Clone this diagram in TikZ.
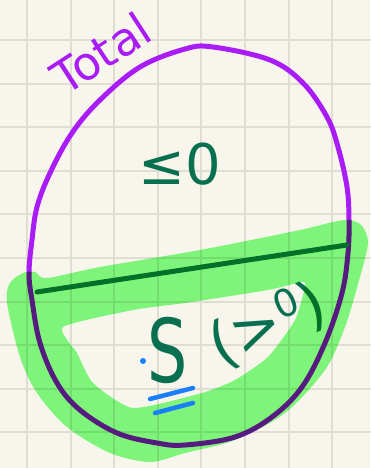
\documentclass[tikz,border=0pt]{standalone}
\usepackage{fontspec}
\setmainfont{DejaVu Sans}
\definecolor{paper}{HTML}{F8F6EC}
\definecolor{gridc}{HTML}{E0DED2}
\definecolor{violet1}{HTML}{A91CF6}
\definecolor{ink}{HTML}{087050}
\definecolor{hl}{HTML}{82FE84}
\definecolor{pen}{HTML}{1A7FFF}
\begin{document}
\begin{tikzpicture}[x=1pt,y=-1pt,line cap=round,line join=round,
  gridline/.style={gridc,line width=2pt},
  inkline/.style={ink,line width=5pt},
  penline/.style={pen,line width=4.5pt}]
\fill[paper] (0,0) rectangle (370,468);
\useasboundingbox (0,0) rectangle (370,468);
% grid
\foreach \i in {0,...,7} \draw[gridline] (27+43.6*\i,0) -- ++(0,468);
\foreach \i in {0,...,9} \draw[gridline] (0,40+43.6*\i) -- ++(370,0);
% ellipse
\draw[violet1,line width=5pt] plot[smooth cycle,tension=0.6] coordinates {
 (213,47) (270,60) (303,83) (327,117) (338,147) (347,187) (349,220) (348,253)
 (342,293) (325,343) (302,387) (272,417) (235,437) (185,445) (157,443) (117,433)
 (80,410) (57,383) (40,343) (32,300) (29,273) (32,240) (37,207) (50,173)
 (72,133) (100,100) (140,67) (185,49)};
% dividing line
\coordinate (L1) at (37,292);
\coordinate (L2) at (347,245);
\draw[inkline] (L1) -- (L2);
% texts
\node[violet1,font=\fontsize{46}{46}\selectfont,inner sep=0,rotate=33] (total) at (101,53) {Total};
\node[ink,font=\fontsize{56}{56}\selectfont,inner sep=0] (le) at (180,164) {≤0};
\node[ink,font=\fontsize{88}{88}\selectfont,inner sep=0,xscale=0.72] (S) at (168,350) {S};
\node[ink,font=\fontsize{60}{60}\selectfont,inner sep=0,rotate=24] (gt) at (268,325) {(>\raisebox{0.3em}{\fontsize{38}{38}\selectfont 0})};
% highlighter
\begin{scope}[blend mode=multiply]
\fill[hl,even odd rule]
 plot[smooth cycle,tension=0.5] coordinates {
 (23,273) (35,272) (47,278) (100,267) (200,250) (300,230) (333,222) (350,220)
 (362,226) (368,243) (360,277) (345,327) (325,370) (285,413) (235,440) (185,453)
 (150,462) (110,453) (67,427) (37,393) (20,357) (7,303) (10,283)}
 plot[smooth cycle,tension=0.35] coordinates {
 (63,327) (133,310) (185,303) (268,290) (302,282) (305,287) (295,320) (268,357)
 (235,380) (202,393) (133,408) (93,383) (77,353)};
\end{scope}
% blue marks
\fill[pen] (143,361) circle (3pt);
\coordinate (B1) at (150,399); \coordinate (B2) at (193,388);
\coordinate (B3) at (155,413); \coordinate (B4) at (193,403);
\draw[penline] (B1) -- (B2);
\draw[penline] (B3) -- (B4);
\end{tikzpicture}
\end{document}
